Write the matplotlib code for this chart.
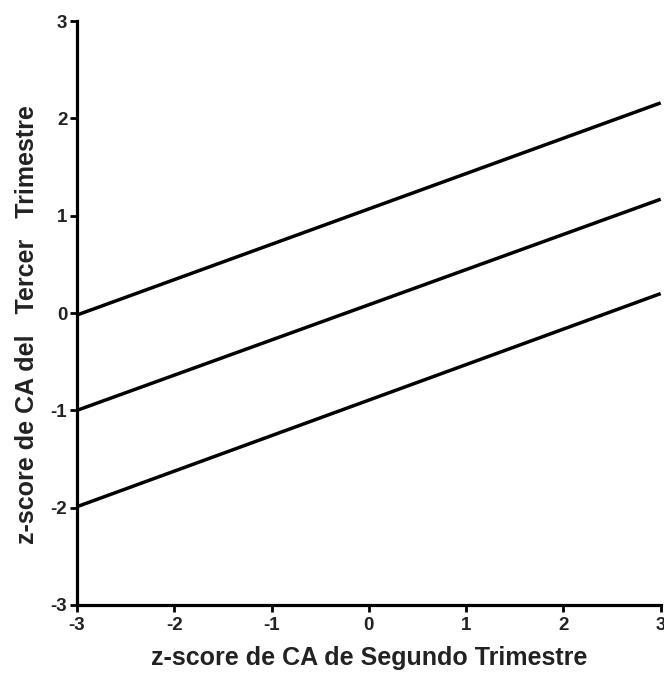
import matplotlib
matplotlib.use("Agg")
import matplotlib.pyplot as plt

plt.rcParams['font.family'] = ['Liberation Sans', 'DejaVu Sans']

x_ends = [-3, 3]
upper = [-0.02, 2.16]
middle = [-1.0, 1.17]
lower = [-1.99, 0.20]
xticks = [-3, -2, -1, 0, 1, 2, 3]
yticks = [-3, -2, -1, 0, 1, 2, 3]

fig = plt.figure(figsize=(6.64, 6.82), dpi=100)
ax = fig.add_axes([0.116, 0.113, 0.879, 0.856])

for ys in (upper, middle, lower):
    ax.plot(x_ends, ys, color='black', lw=2.5, solid_capstyle='butt', clip_on=False)

ax.set_xlim(-3, 3)
ax.set_ylim(-3, 3)
ax.set_xticks(xticks)
ax.set_yticks(yticks)
ax.set_xticklabels([str(t) for t in xticks], fontweight='bold', fontsize=13.5, color='#222222')
ax.set_yticklabels([str(t) for t in yticks], fontweight='bold', fontsize=13.5, color='#222222')
for s in ('top', 'right'):
    ax.spines[s].set_visible(False)
for s in ('left', 'bottom'):
    ax.spines[s].set_linewidth(2.3)
ax.tick_params(direction='out', length=5, width=2, pad=2)
ax.tick_params(axis='x', pad=4)

ax.set_xlabel('z-score de CA de Segundo Trimestre', fontsize=18, fontweight='bold', color='#222222', labelpad=8)
ax.set_ylabel('z-score de CA del   Tercer   Trimestre', fontsize=18, fontweight='bold', color='#222222')
ax.yaxis.set_label_coords(-0.065, 0.48)

fig.savefig('out.png', dpi=100)
